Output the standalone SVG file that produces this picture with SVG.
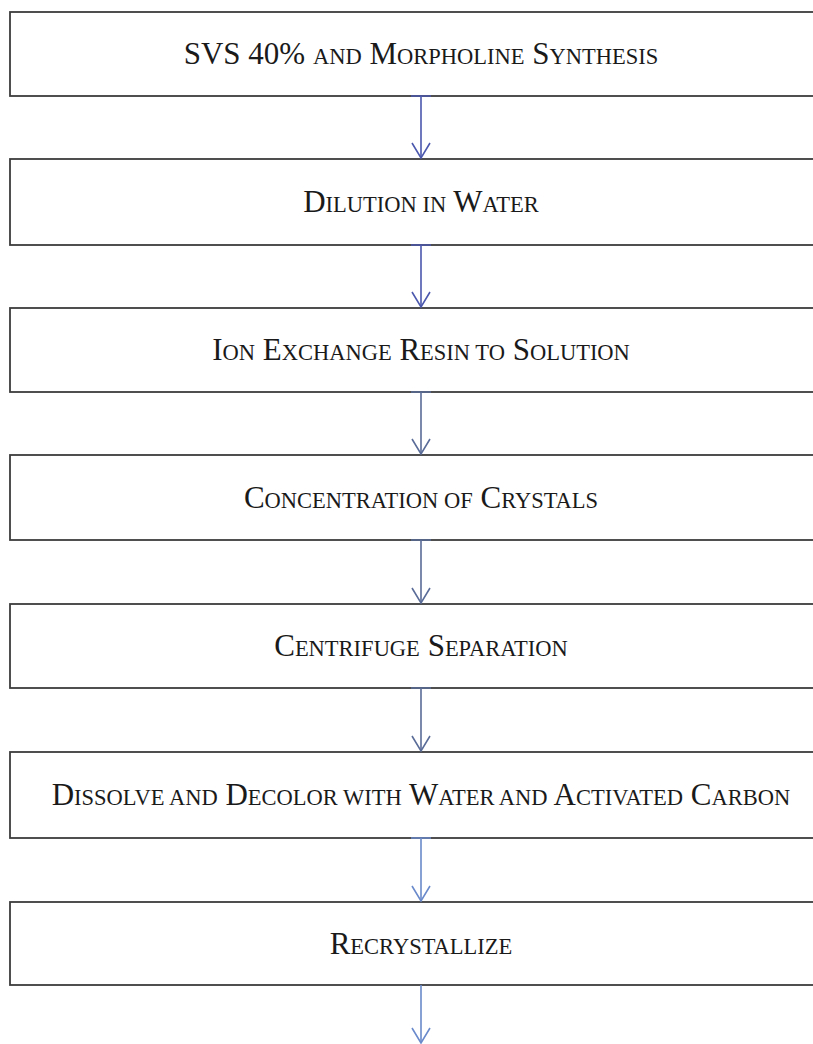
<svg xmlns="http://www.w3.org/2000/svg" width="813" height="1044" viewBox="0 0 813 1044">
<style>
.box{fill:#fff;stroke:#3c3c3c;stroke-width:1.8}
.t{font-family:"Liberation Serif","Times New Roman",serif;font-size:31px;fill:#1a1a1a;text-anchor:middle}
.s{font-size:22.5px}
.a1{stroke:#4b58ad;stroke-width:1.6;fill:none}
.a2{stroke:#5a6c98;stroke-width:1.6;fill:none}
.a3{stroke:#6a8acb;stroke-width:1.6;fill:none}
</style>
<defs>
<marker id="m1" markerUnits="userSpaceOnUse" viewBox="-17 -11 19 22" markerWidth="19" markerHeight="22" refX="0" refY="0" orient="auto"><path d="M-15,-9 L0,0 L-15,9" fill="none" stroke="#4b58ad" stroke-width="1.6"/></marker>
<marker id="m2" markerUnits="userSpaceOnUse" viewBox="-17 -11 19 22" markerWidth="19" markerHeight="22" refX="0" refY="0" orient="auto"><path d="M-15,-9 L0,0 L-15,9" fill="none" stroke="#5a6c98" stroke-width="1.6"/></marker>
<marker id="m3" markerUnits="userSpaceOnUse" viewBox="-17 -11 19 22" markerWidth="19" markerHeight="22" refX="0" refY="0" orient="auto"><path d="M-15,-9 L0,0 L-15,9" fill="none" stroke="#6a8acb" stroke-width="1.6"/></marker>
</defs>
<rect width="813" height="1044" fill="#fff"/>
<g id="n1"><rect class="box" x="10" y="12" width="830" height="84"/>
<text class="t" x="421" y="64">SVS 40% <tspan class="s">AND</tspan> M<tspan class="s">ORPHOLINE</tspan> S<tspan class="s">YNTHESIS</tspan></text></g>
<g id="n2"><rect class="box" x="10" y="159" width="830" height="86"/>
<text class="t" x="421" y="212">D<tspan class="s">ILUTION IN</tspan> W<tspan class="s">ATER</tspan></text></g>
<g id="n3"><rect class="box" x="10" y="308" width="830" height="84"/>
<text class="t" x="421" y="360">I<tspan class="s">ON</tspan> E<tspan class="s">XCHANGE</tspan> R<tspan class="s">ESIN TO</tspan> S<tspan class="s">OLUTION</tspan></text></g>
<g id="n4"><rect class="box" x="10" y="455" width="830" height="85"/>
<text class="t" x="421" y="508">C<tspan class="s">ONCENTRATION OF</tspan> C<tspan class="s">RYSTALS</tspan></text></g>
<g id="n5"><rect class="box" x="10" y="604" width="830" height="84"/>
<text class="t" x="421" y="656">C<tspan class="s">ENTRIFUGE</tspan> S<tspan class="s">EPARATION</tspan></text></g>
<g id="n6"><rect class="box" x="10" y="752" width="830" height="86"/>
<text class="t" x="421" y="805">D<tspan class="s">ISSOLVE AND</tspan> D<tspan class="s">ECOLOR WITH</tspan> W<tspan class="s">ATER AND</tspan> A<tspan class="s">CTIVATED</tspan> C<tspan class="s">ARBON</tspan></text></g>
<g id="n7"><rect class="box" x="10" y="902" width="830" height="83"/>
<text class="t" x="421" y="954">R<tspan class="s">ECRYSTALLIZE</tspan></text></g>
<g id="connectors">
<path class="a1" d="M411,96 H431 M421,96 V158" marker-end="url(#m1)"/>
<path class="a1" d="M411,245 H431 M421,245 V307" marker-end="url(#m1)"/>
<path class="a2" d="M411,392 H431 M421,392 V454" marker-end="url(#m2)"/>
<path class="a2" d="M411,540 H431 M421,540 V603" marker-end="url(#m2)"/>
<path class="a2" d="M411,688 H431 M421,688 V751" marker-end="url(#m2)"/>
<path class="a3" d="M411,838 H431 M421,838 V901" marker-end="url(#m3)"/>
<path class="a3" d="M421,985 V1043" marker-end="url(#m3)"/>
</g>
</svg>
